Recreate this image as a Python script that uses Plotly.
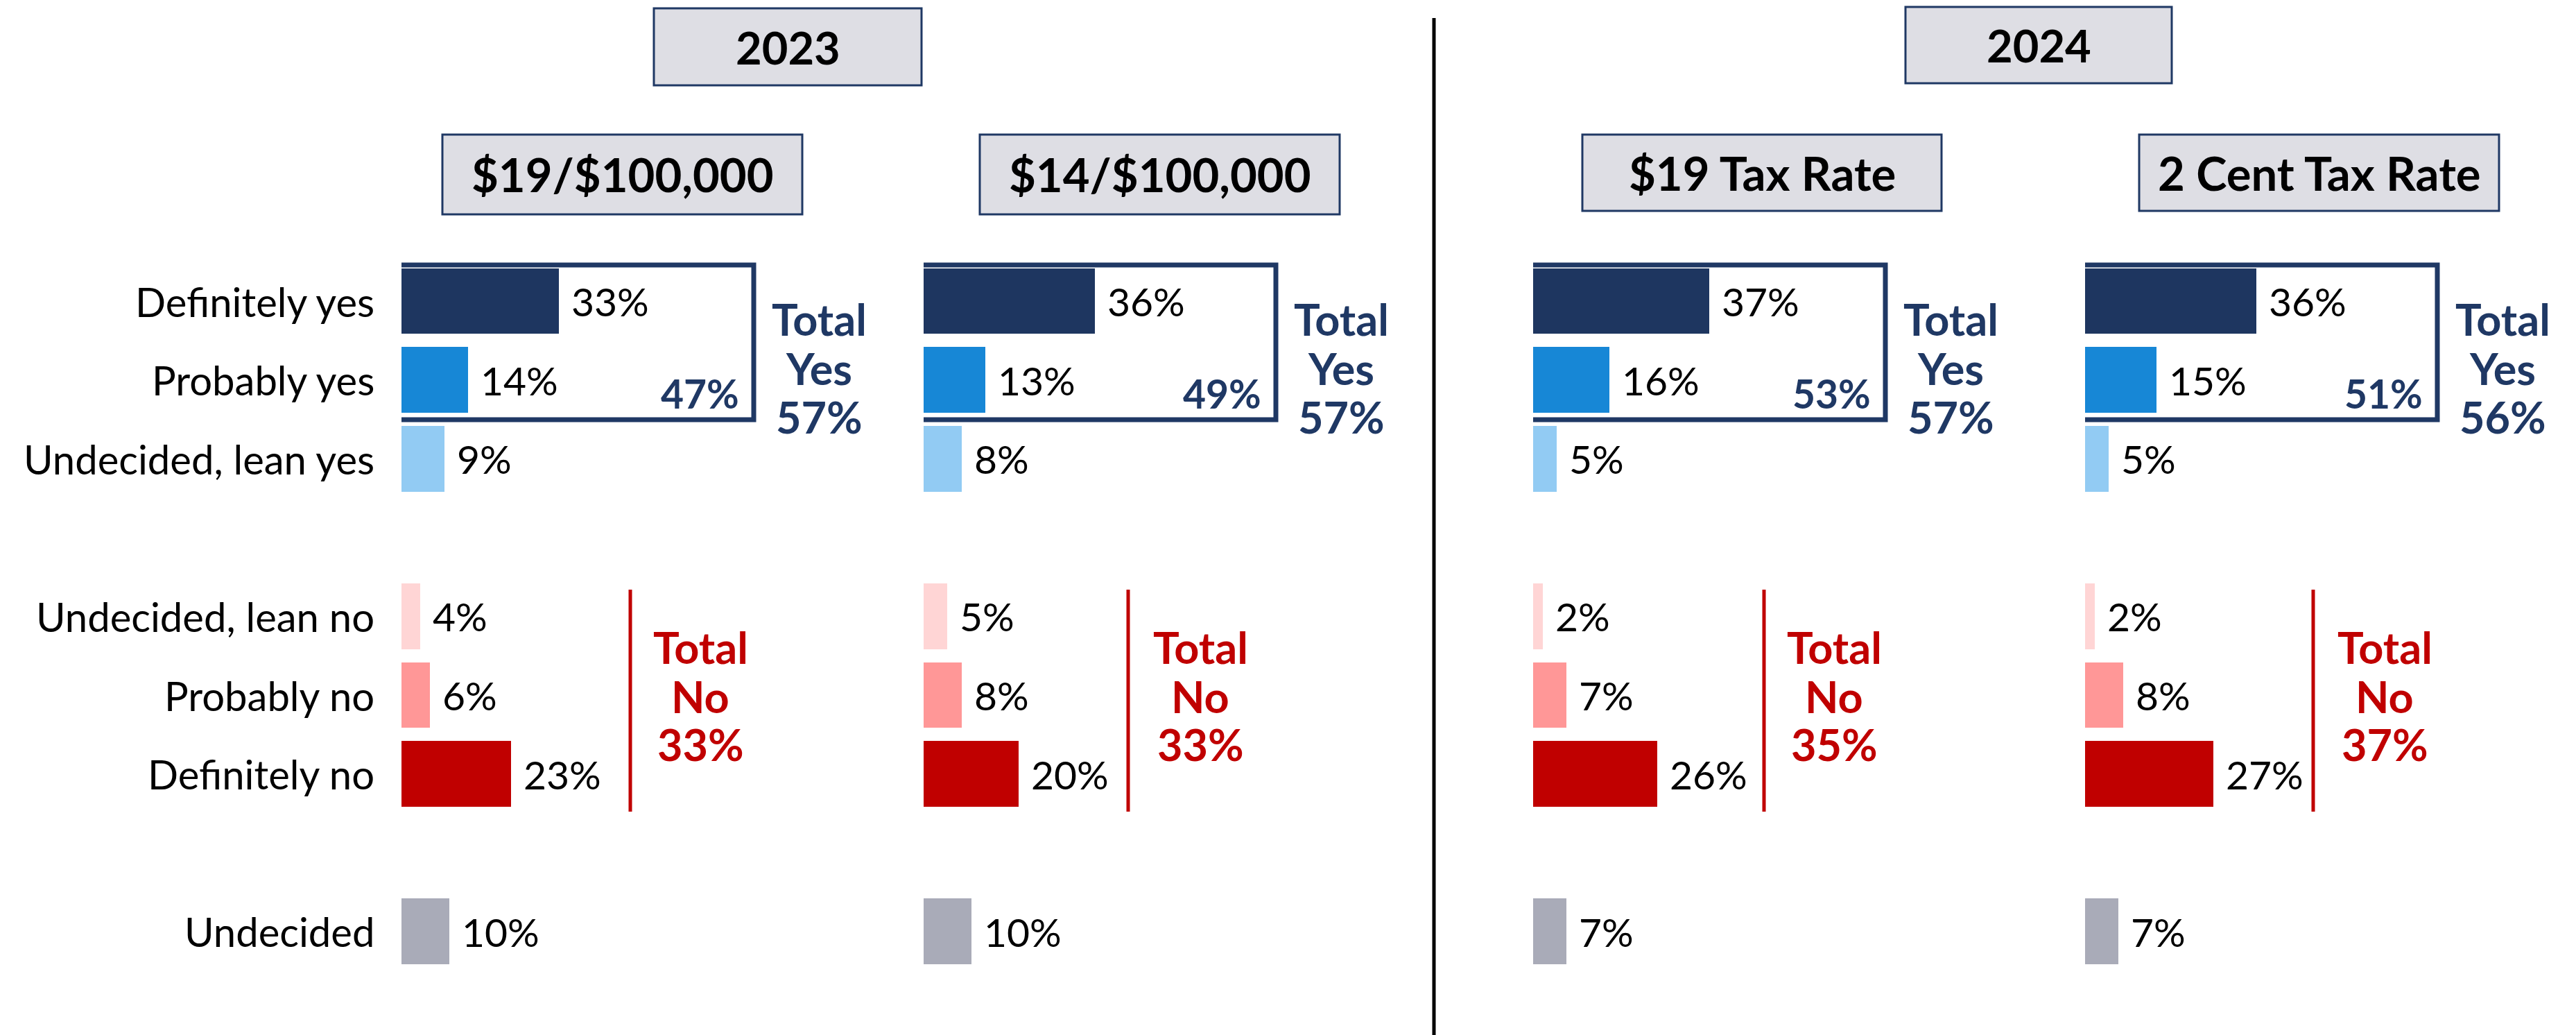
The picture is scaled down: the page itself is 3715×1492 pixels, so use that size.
import plotly.graph_objects as go

# ---------------- data ----------------
categories = ["Definitely yes", "Probably yes", "Undecided, lean yes",
              "Undecided, lean no", "Probably no", "Definitely no", "Undecided"]
panel_titles = ["$19/$100,000", "$14/$100,000", "$19 Tax Rate", "2 Cent Tax Rate"]
year_titles = ["2023", "2024"]
vals_p1 = [33, 14, 9, 4, 6, 23, 10]
vals_p2 = [36, 13, 8, 5, 8, 20, 10]
vals_p3 = [37, 16, 5, 2, 7, 26, 7]
vals_p4 = [36, 15, 5, 2, 8, 27, 7]
yes_sub = [47, 49, 53, 51]       # Definitely + Probably yes
total_yes = [57, 57, 57, 56]
total_no = [33, 33, 35, 37]

# ---------------- layout constants ----------------
W, H = 3715, 1492
PX_PER_PCT = 6.87
ROW0, ROW_STEP = 434, 113.6
row_pos = [0, 1, 2, 4, 5, 6, 8]
bar_colors = ["#1E3660", "#1787D6", "#92CBF3", "#FFD5D5", "#FF9797", "#C00000", "#A9ABB8"]
NAVY = "#1F3864"
RED = "#C00000"
HDR_FILL = "#DEDEE4"
FONT = "Lato"
panel_base = [579, 1332, 2211, 3007]
PANEL_LEN = 620
redline_off = [330, 295, 333, 329]
totalno_off = [431, 399, 434, 432]
TOTALYES_OFF = 602
SUB_OFF = 489

def px2x(p):
    return p / W

def px2y(p):
    return 1 - p / H

def ydata(p):
    return (p - ROW0) / ROW_STEP

def off(p):
    return p / PX_PER_PCT

fig = go.Figure()
all_vals = [vals_p1, vals_p2, vals_p3, vals_p4]
annotations = []
shapes = []

for k, vals in enumerate(all_vals):
    xa = "x" if k == 0 else f"x{k+1}"
    fig.add_trace(go.Bar(
        x=vals, y=row_pos, orientation="h", xaxis=xa, yaxis="y",
        marker=dict(color=bar_colors, line=dict(width=0)),
        width=0.835, hoverinfo="skip", showlegend=False,
    ))
    # value labels
    for v, yp in zip(vals, row_pos):
        annotations.append(dict(
            x=v, y=yp, xref=xa, yref="y", text=f"{v}%", showarrow=False,
            xanchor="left", yanchor="middle", xshift=16,
            font=dict(family=FONT, size=57, color="black")))
    # blue box
    shapes.append(dict(type="rect", xref=xa, yref="y",
                       x0=off(-8), x1=off(508), y0=ydata(382), y1=ydata(605),
                       line=dict(color=NAVY, width=7), fillcolor="rgba(0,0,0,0)", layer="above"))
    # subtotal yes inside box
    annotations.append(dict(
        x=off(SUB_OFF), y=ydata(567), xref=xa, yref="y", text=f"<b>{yes_sub[k]}%</b>",
        showarrow=False, xanchor="right", yanchor="middle",
        font=dict(family=FONT, size=57, color=NAVY)))
    # total yes
    for txt, yy in zip(["Total", "Yes", f"{total_yes[k]}%"], [459, 530, 600]):
        annotations.append(dict(
            x=off(TOTALYES_OFF), y=ydata(yy), xref=xa, yref="y", text=f"<b>{txt}</b>",
            showarrow=False, xanchor="center", yanchor="middle",
            font=dict(family=FONT, size=63, color=NAVY)))
    # red line
    shapes.append(dict(type="line", xref=xa, yref="y",
                       x0=off(redline_off[k]), x1=off(redline_off[k]),
                       y0=ydata(850), y1=ydata(1170),
                       line=dict(color=RED, width=5)))
    # total no
    for txt, yy in zip(["Total", "No", f"{total_no[k]}%"], [932, 1003, 1072]):
        annotations.append(dict(
            x=off(totalno_off[k]), y=ydata(yy), xref=xa, yref="y", text=f"<b>{txt}</b>",
            showarrow=False, xanchor="center", yanchor="middle",
            font=dict(family=FONT, size=63, color=RED)))

# category labels
for c, yp in zip(categories, row_pos):
    annotations.append(dict(
        x=px2x(542), y=yp, xref="paper", yref="y", text=c, showarrow=False,
        xanchor="right", yanchor="middle",
        font=dict(family=FONT, size=58, color="black")))

# header boxes
hdr_boxes = [(638, 1157, 194, 309), (1413, 1932, 194, 309),
             (2282, 2800, 194, 304), (3085, 3604, 194, 304)]
for t, (x0, x1, y0, y1) in zip(panel_titles, hdr_boxes):
    shapes.append(dict(type="rect", xref="paper", yref="paper",
                       x0=px2x(x0), x1=px2x(x1), y0=px2y(y1), y1=px2y(y0),
                       fillcolor=HDR_FILL, line=dict(color=NAVY, width=3), layer="below"))
    annotations.append(dict(
        x=px2x((x0 + x1) / 2), y=px2y((y0 + y1) / 2), xref="paper", yref="paper",
        text=f"<b>{t}</b>", showarrow=False, xanchor="center", yanchor="middle",
        font=dict(family=FONT, size=67, color="black")))

year_boxes = [(943, 1329, 12, 123), (2748, 3132, 10, 120)]
for t, (x0, x1, y0, y1) in zip(year_titles, year_boxes):
    shapes.append(dict(type="rect", xref="paper", yref="paper",
                       x0=px2x(x0), x1=px2x(x1), y0=px2y(y1), y1=px2y(y0),
                       fillcolor=HDR_FILL, line=dict(color=NAVY, width=3), layer="below"))
    annotations.append(dict(
        x=px2x((x0 + x1) / 2), y=px2y((y0 + y1) / 2), xref="paper", yref="paper",
        text=f"<b>{t}</b>", showarrow=False, xanchor="center", yanchor="middle",
        font=dict(family=FONT, size=65, color="black")))

# vertical separator
shapes.append(dict(type="line", xref="paper", yref="paper",
                   x0=px2x(2068), x1=px2x(2068), y0=px2y(26), y1=0,
                   line=dict(color="black", width=5)))

axis_common = dict(showgrid=False, zeroline=False, showline=False, showticklabels=False,
                   ticks="", fixedrange=True)
layout_axes = {}
for k in range(4):
    name = "xaxis" if k == 0 else f"xaxis{k+1}"
    b = panel_base[k]
    layout_axes[name] = dict(domain=[px2x(b), px2x(b + PANEL_LEN)],
                             range=[0, off(PANEL_LEN)], anchor="y", **axis_common)

fig.update_layout(
    width=W, height=H,
    margin=dict(l=0, r=0, t=0, b=0),
    paper_bgcolor="white", plot_bgcolor="white",
    yaxis=dict(domain=[0, 1], range=[(H - ROW0) / ROW_STEP, -ROW0 / ROW_STEP], **axis_common),
    annotations=annotations, shapes=shapes,
    bargap=0, showlegend=False,
    **layout_axes,
)

fig.write_html("out.html",
               config=dict(displayModeBar=False),
               post_script="document.body.style.margin='0';document.body.style.overflow='hidden';")
